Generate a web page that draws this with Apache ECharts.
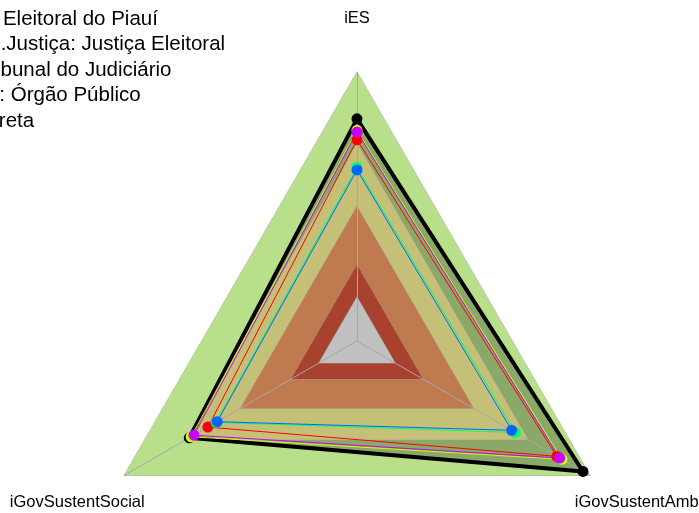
<!DOCTYPE html>
<html>
<head>
<meta charset="utf-8">
<script src="https://cdn.jsdelivr.net/npm/echarts@6/dist/echarts.min.js"></script>
<style>html,body{margin:0;padding:0;background:#fff;}#c{width:699px;height:513px;}</style>
</head>
<body>
<div id="c"></div>
<script>
// Indicators (counter-clockwise from top)
const indicators = ['iES', 'iGovSustentSocial', 'iGovSustentAmb'];

// Background bands (fraction of max), outer to inner
const bandLevels = [1.0, 0.735, 0.5, 0.283, 0.164];
const bandColors = ['#b8e08b', '#c4c078', '#c07a50', '#a8412d', '#c0c0c0'];

// Series names
const seriesNames = [
  'Tribunal Regional Eleitoral do Piauí',
  'Média do Seg.Justiça: Justiça Eleitoral',
  'Média do Tipo: Tribunal do Judiciário',
  'Média da Natureza: Órgão Público',
  'Média da Esfera: Administração Direta',
  'Média Geral'
];
const seriesColors = ['#000000', '#FF0000', '#CCFF00', '#00FF66', '#0066FF', '#CC00FF'];

// Values [iES, iGovSustentSocial, iGovSustentAmb]
const valTRE      = [0.826, 0.720, 0.970];
const valSegmento = [0.748, 0.640, 0.858];
const valTipoTrib = [0.783, 0.712, 0.880];
const valOrgao    = [0.646, 0.605, 0.680];
const valAdmDir   = [0.636, 0.600, 0.664];
const valGeral    = [0.777, 0.700, 0.870];
const seriesValues = [valTRE, valSegmento, valTipoTrib, valOrgao, valAdmDir, valGeral];

const legendNames = seriesNames.slice(0, 5);

// Layout: the legend box is cut by the left page edge; only the end of each
// entry is visible. Each visible tail is centred where it sits in the original.
const LEGEND_FONT = 20.5;
const legendTails = ['Eleitoral do Piauí', '.Justiça: Justiça Eleitoral', 'bunal do Judiciário', ': Órgão Público', 'reta'];
const legendTailCenter = [80.4, 112.9, 86, 70, 16.5];
const legendTop0 = 8.5, legendStep = 25.6;

const series = [];
function band(level, color) {
  return {
    type: 'radar', z: 1, silent: true, symbol: 'none',
    lineStyle: { color: '#9a9a9a', width: 0.8 },
    areaStyle: { color: color, opacity: 1 },
    data: [{ value: indicators.map(() => level), name: 'band' + level }]
  };
}
series.push(band(bandLevels[0], bandColors[0]));
// translucent fill of main organisation
series.push({
  type: 'radar', z: 1, silent: true, symbol: 'none',
  lineStyle: { width: 0, opacity: 0 },
  areaStyle: { color: 'rgba(0,0,0,0.25)', opacity: 1 },
  data: [{ value: valTRE, name: 'fill' }]
});
for (let i = 1; i < bandLevels.length; i++) series.push(band(bandLevels[i], bandColors[i]));

seriesNames.forEach((n, i) => {
  series.push({
    type: 'radar', z: 5, name: n, symbol: 'circle', symbolSize: 11,
    itemStyle: { color: seriesColors[i] },
    lineStyle: { color: seriesColors[i], width: i === 0 ? 4 : 1 },
    data: [{ value: seriesValues[i], name: n }]
  });
});

const ctx = document.createElement('canvas').getContext('2d');
ctx.font = LEGEND_FONT + 'px "Liberation Sans"';
const legends = legendNames.map((n, i) => {
  const full = ctx.measureText(n).width;
  const tail = ctx.measureText(legendTails[i]).width;
  const textStart = legendTailCenter[i] - tail / 2 - (full - tail);
  return {
    data: [n],
    orient: 'vertical',
    left: textStart - 30,
    top: legendTop0 + i * legendStep,
    padding: 0,
    itemWidth: 25, itemHeight: 14,
    textStyle: { fontFamily: 'Liberation Sans', fontSize: LEGEND_FONT, color: '#000', lineHeight: 20 }
  };
});

const chart = echarts.init(document.getElementById('c'), null, { renderer: 'canvas' });
chart.setOption({
  animation: false,
  backgroundColor: '#ffffff',
  legend: legends,
  radar: {
    z: 3,
    center: [357, 341],
    radius: 269,
    startAngle: 90,
    shape: 'polygon',
    splitNumber: 1,
    nameGap: 54,
    indicator: indicators.map(n => ({ name: n, min: 0, max: 1 })),
    axisName: { color: '#000', fontFamily: 'Liberation Sans', fontSize: 16.5, align: 'center', verticalAlign: 'middle', padding: [6, 0, 0, 0] },
    axisLine: { lineStyle: { color: '#a8a8a8', width: 1 } },
    splitLine: { show: false },
    splitArea: { show: false },
    axisTick: { show: false },
    axisLabel: { show: false }
  },
  series: series
});
</script>
</body>
</html>
